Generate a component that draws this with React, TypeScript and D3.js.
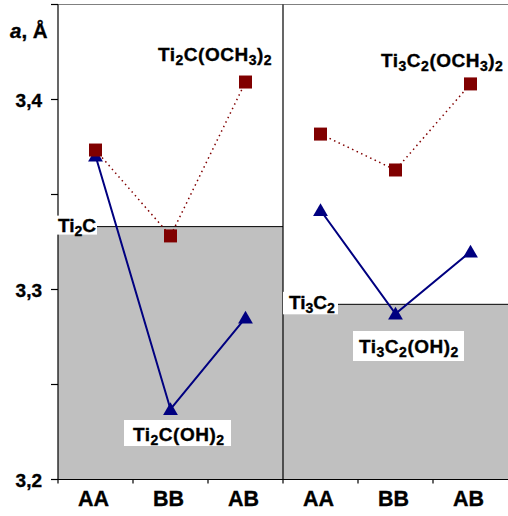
import React from 'react';
import * as d3 from 'd3';

const categories = ['AA', 'BB', 'AB'];
const ti2cOCH3 = [3.3734, 3.3282, 3.4092];
const ti2cOH = [3.3704, 3.237, 3.2851];
const ti3c2OCH3 = [3.3818, 3.3629, 3.4082];
const ti3c2OH = [3.3417, 3.2872, 3.3199];
const bareTi2C = 3.3331;
const bareTi3C2 = 3.2922;
const yTicks = [3.2, 3.25, 3.3, 3.35, 3.4, 3.45];
const yTickLabels = ['3,2', '', '3,3', '', '3,4', ''];

const W = 508;
const H = 516;
const FONT = '"Liberation Sans", Arial, sans-serif';
const TXT = { fontFamily: FONT, fontWeight: 'bold' as const, fill: '#000', stroke: '#000', strokeWidth: 0.35 };

type Part = { t: string; sub?: boolean; it?: boolean };

function Formula({ x, y, parts, size = 19, sub = 14, ls = 0 }: { x: number; y: number; parts: Part[]; size?: number; sub?: number; ls?: number }) {
  let prevSub = false;
  return (
    <text x={x} y={y} {...TXT} fontSize={size} letterSpacing={ls}>
      {parts.map((p, i) => {
        let dy = 0;
        if (p.sub && !prevSub) dy = 4;
        if (!p.sub && prevSub) dy = -4;
        prevSub = !!p.sub;
        return (
          <tspan key={i} dy={dy} fontSize={p.sub ? sub : size} fontStyle={p.it ? 'italic' : 'normal'}>
            {p.t}
          </tspan>
        );
      })}
    </text>
  );
}

const f = (s: string): Part[] => {
  const out: Part[] = [];
  for (const ch of s) {
    const isSub = /[0-9]/.test(ch);
    const last = out[out.length - 1];
    if (last && !!last.sub === isSub) last.t += ch;
    else out.push({ t: ch, sub: isSub });
  }
  return out;
};

export default function App() {
  const left = 58;
  const top = 4.5;
  const bottom = 479.5;
  const mid = 283;
  const right = 508;

  const y = d3.scaleLinear().domain([3.2, 3.45]).range([bottom, top]);
  const xL = d3.scaleBand<string>().domain(categories).range([left, mid]);
  const xR = d3.scaleBand<string>().domain(categories).range([mid, right]);
  const cx = (s: d3.ScaleBand<string>, c: string) => (s(c) as number) + s.bandwidth() / 2;

  const line = (s: d3.ScaleBand<string>, vals: number[]) =>
    d3.line<number>().x((_, i) => cx(s, categories[i])).y((v) => y(v))(vals) as string;

  const sq = 13;
  const tri = d3.symbol().type(d3.symbolTriangle).size(95)() as string;

  const squares = (s: d3.ScaleBand<string>, vals: number[]) =>
    vals.map((v, i) => (
      <rect key={i} x={cx(s, categories[i]) - sq / 2} y={y(v) - sq / 2} width={sq} height={sq} fill="#800000" />
    ));
  const triangles = (s: d3.ScaleBand<string>, vals: number[]) =>
    vals.map((v, i) => (
      <path key={i} d={tri} transform={`translate(${cx(s, categories[i])},${y(v) + 1.5})`} fill="#000080" />
    ));

  const xTicks = [left, ...categories.map((c) => (xL(c) as number) + xL.bandwidth()).slice(0, 2), mid,
    ...categories.map((c) => (xR(c) as number) + xR.bandwidth()).slice(0, 2)];

  return (
    <svg width={W} height={H} style={{ position: 'absolute', left: 0, top: 0, background: '#fff' }}>
      <rect x={0} y={0} width={W} height={H} fill="#fff" />
      <rect x={left} y={y(bareTi2C)} width={mid - left} height={bottom - y(bareTi2C)} fill="#C0C0C0" />
      <rect x={mid} y={y(bareTi3C2)} width={right - mid} height={bottom - y(bareTi3C2)} fill="#C0C0C0" />
      <line x1={left} x2={mid} y1={y(bareTi2C)} y2={y(bareTi2C)} stroke="#000" strokeWidth={1} />
      <line x1={mid} x2={right} y1={y(bareTi3C2)} y2={y(bareTi3C2)} stroke="#000" strokeWidth={1} />

      <line x1={left} x2={right} y1={top} y2={top} stroke="#808080" strokeWidth={1} />
      <line x1={left} x2={left} y1={top} y2={bottom} stroke="#000" strokeWidth={1.2} />
      <line x1={mid} x2={mid} y1={top} y2={bottom} stroke="#000" strokeWidth={1.2} />
      <line x1={left} x2={right} y1={bottom} y2={bottom} stroke="#000" strokeWidth={1.2} />

      {yTicks.map((t, i) => (
        <g key={t}>
          <line x1={left - 7} x2={left} y1={y(t)} y2={y(t)} stroke="#000" strokeWidth={1.2} />
          {yTickLabels[i] && (
            <text x={42} y={y(t) + 7} textAnchor="end" {...TXT} fontSize={19}>
              {yTickLabels[i]}
            </text>
          )}
        </g>
      ))}
      {xTicks.map((t, i) => (
        <line key={i} x1={t} x2={t} y1={bottom} y2={bottom + 4} stroke="#000" strokeWidth={1.2} />
      ))}
      {categories.map((c) => (
        <g key={c}>
          <text x={cx(xL, c) - 2} y={505.5} textAnchor="middle" {...TXT} fontSize={21.5}>{c}</text>
          <text x={cx(xR, c) - 2} y={505.5} textAnchor="middle" {...TXT} fontSize={21.5}>{c}</text>
        </g>
      ))}

      <text x={10} y={37.5} {...TXT} fontSize={20.5}>
        <tspan fontStyle="italic">a</tspan>, Å
      </text>

      <path d={line(xL, ti2cOH)} fill="none" stroke="#000080" strokeWidth={2} />
      <path d={line(xR, ti3c2OH)} fill="none" stroke="#000080" strokeWidth={2} />
      <path d={line(xL, ti2cOCH3)} fill="none" stroke="#800000" strokeWidth={1.5} strokeDasharray="1.5 3.5" />
      <path d={line(xR, ti3c2OCH3)} fill="none" stroke="#800000" strokeWidth={1.5} strokeDasharray="1.5 3.5" />
      {triangles(xL, ti2cOH)}
      {triangles(xR, ti3c2OH)}
      {squares(xL, ti2cOCH3)}
      {squares(xR, ti3c2OCH3)}

      <rect x={left - 1} y={y(bareTi2C) - 11} width={40} height={19} fill="#fff" />
      <Formula x={left} y={y(bareTi2C) + 5} parts={f('Ti2C')} />
      <rect x={mid} y={y(bareTi3C2) - 12.5} width={55} height={22.5} fill="#fff" />
      <Formula x={289} y={y(bareTi3C2) + 4.5} parts={f('Ti3C2')} />

      <rect x={124} y={420} width={107} height={26} fill="#fff" />
      <Formula x={133} y={440.5} parts={f('Ti2C(OH)2')} ls={0.5} />
      <rect x={353} y={331} width={111} height={30} fill="#fff" />
      <Formula x={359} y={352.5} parts={f('Ti3C2(OH)2')} ls={0.5} />

      <Formula x={158} y={61} parts={f('Ti2C(OCH3)2')} ls={0.5} />
      <Formula x={381} y={66.5} parts={f('Ti3C2(OCH3)2')} ls={0.5} />
    </svg>
  );
}
